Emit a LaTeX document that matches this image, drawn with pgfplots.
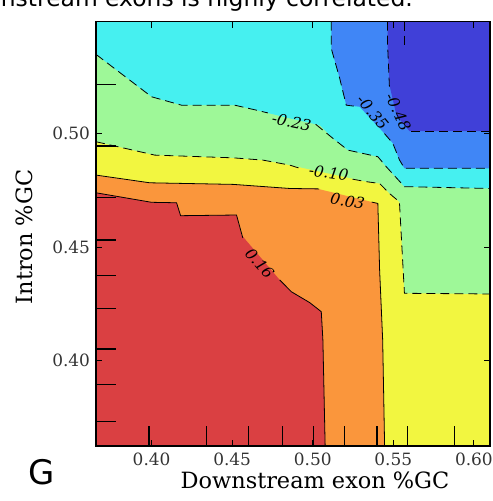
\documentclass[border=0pt]{standalone}
\usepackage{pgfplots}
\pgfplotsset{compat=1.18}
\usepackage{fontspec}
\setmainfont{DejaVu Serif}
\newfontfamily\sansfont{DejaVu Sans}

\definecolor{cRed}{RGB}{218,64,66}
\definecolor{cOrange}{RGB}{250,150,60}
\definecolor{cYellow}{RGB}{242,246,64}
\definecolor{cGreen}{RGB}{158,248,152}
\definecolor{cCyan}{RGB}{70,240,240}
\definecolor{cBlue}{RGB}{64,134,246}
\definecolor{cDark}{RGB}{64,64,216}

\tikzset{negline/.style={black, line width=0.8pt, dash pattern=on 9bp off 5bp},
         posline/.style={black, line width=0.8pt},
         rug/.style={black, line width=1.3pt},
         tk/.style={black, line width=0.9pt},
         clab/.style={font=\itshape\fontsize{15.5}{18}\selectfont, inner sep=0pt}}

\begin{document}
\begin{tikzpicture}
\begin{axis}[
  scale only axis, width=394bp, height=424.3bp,
  xmin=0.3655, xmax=0.6100, ymin=0.3624, ymax=0.5494,
  axis on top,
  axis line style={line width=1.2pt},
  tick align=inside,
  major tick length=6bp,
  tick style={draw=black, line width=0.9pt},
  xtick={0.40,0.45,0.50,0.55,0.60},
  xticklabels={0.40,0.45,0.50,0.55,0.60},
  ytick={0.40,0.45,0.50,0.55},
  yticklabels={0.40,0.45,0.50,0.55},
  /pgf/number format/assume math mode=true,
  ticklabel style={font=\fontsize{17}{20}\selectfont, text=black!80},
  xticklabel style={yshift=-3bp},
  yticklabel style={xshift=-2.5bp},
  xlabel={Downstream exon \%GC},
  ylabel={Intron \%GC},
  label style={font=\fontsize{22.5}{27}\selectfont},
  xlabel style={at={(axis description cs:0.5,0)}, anchor=base, yshift=-42bp, xshift=22bp},
  ylabel style={at={(axis description cs:0,0.5)}, anchor=base, yshift=63bp, xshift=-3bp},
  unbounded coords=jump,
]
% yellow background level (-0.10 .. 0.03)
\addplot[fill=cYellow, draw=none] coordinates {
(0.3655,0.3624) (0.6100,0.3624) (0.6100,0.5494) (0.3655,0.5494)} --cycle;
% green (-0.23 .. -0.10)
\addplot[fill=cGreen, draw=none] coordinates {
(0.3655,0.4965) (0.4020,0.4906) (0.4506,0.4894) (0.4691,0.4884) (0.4857,0.4862)
(0.5332,0.4789) (0.5415,0.4781) (0.5476,0.4737) (0.5538,0.4700) (0.5569,0.4297)
(0.6100,0.4294) (0.6100,0.5494) (0.3655,0.5494)} --cycle;
% cyan (-0.35 .. -0.23)
\addplot[fill=cCyan, draw=none] coordinates {
(0.3655,0.5350) (0.4000,0.5163) (0.4186,0.5126) (0.4516,0.5126) (0.4651,0.5104)
(0.4857,0.5068) (0.5043,0.5038) (0.5125,0.4980) (0.5218,0.4928) (0.5404,0.4899)
(0.5456,0.4855) (0.5569,0.4767) (0.6100,0.4759) (0.6100,0.5494) (0.3655,0.5494)} --cycle;
% blue (-0.48 .. -0.35)
\addplot[fill=cBlue, draw=none] coordinates {
(0.5115,0.5494) (0.5115,0.5376) (0.5167,0.5245) (0.5208,0.5126) (0.5291,0.5119)
(0.5435,0.5009) (0.5497,0.4958) (0.5538,0.4885) (0.5569,0.4848) (0.6100,0.4848)
(0.6100,0.5494)} --cycle;
% dark blue (< -0.48)
\addplot[fill=cDark, draw=none] coordinates {
(0.5464,0.5494) (0.5464,0.5400) (0.5476,0.5215) (0.5520,0.5080) (0.5600,0.5012)
(0.6100,0.5012) (0.6100,0.5494)} --cycle;
% orange (0.03 .. 0.16)
\addplot[fill=cOrange, draw=none] coordinates {
(0.3655,0.4818) (0.3989,0.4784) (0.4506,0.4777) (0.4857,0.4759) (0.5022,0.4759)
(0.5404,0.4693) (0.5415,0.4400) (0.5434,0.4091) (0.5446,0.3624) (0.3655,0.3624)} --cycle;
% red (> 0.16)
\addplot[fill=cRed, draw=none] coordinates {
(0.3655,0.4740) (0.4000,0.4698) (0.4155,0.4696) (0.4180,0.4639) (0.4527,0.4642)
(0.4558,0.4554) (0.4795,0.4356) (0.4867,0.4304) (0.4981,0.4256) (0.5053,0.4216)
(0.5063,0.4091) (0.5077,0.3624) (0.3655,0.3624)} --cycle;

% contour lines (negative levels dashed)
\addplot[negline] coordinates {(0.3655,0.5350) (0.4000,0.5163) (0.4186,0.5126) (0.4516,0.5126) (0.4651,0.5104) (0.4721,0.5092)};
\addplot[negline] coordinates {(0.5018,0.5042) (0.5125,0.4980) (0.5218,0.4928) (0.5404,0.4899) (0.5456,0.4855) (0.5569,0.4767) (0.6100,0.4759)};
\addplot[negline] coordinates {(0.3655,0.4965) (0.4020,0.4906) (0.4506,0.4894) (0.4691,0.4884) (0.4857,0.4862) (0.4937,0.4844)};
\addplot[negline] coordinates {(0.5247,0.4800) (0.5332,0.4789) (0.5415,0.4781) (0.5476,0.4737) (0.5538,0.4700) (0.5569,0.4297) (0.6100,0.4294)};
\addplot[negline] coordinates {(0.5115,0.5494) (0.5115,0.5376) (0.5167,0.5245) (0.5208,0.5126) (0.5265,0.5121)};
\addplot[negline] coordinates {(0.5445,0.5001) (0.5497,0.4958) (0.5538,0.4885) (0.5569,0.4848) (0.6100,0.4848)};
\addplot[negline] coordinates {(0.5464,0.5494) (0.5464,0.5400) (0.5476,0.5205)};
\addplot[negline] coordinates {(0.5610,0.5012) (0.6100,0.5012)};
\addplot[negline] coordinates {(0.5569,0.5494) (0.5569,0.5376)};
% positive levels solid
\addplot[posline] coordinates {(0.3655,0.4818) (0.3989,0.4784) (0.4506,0.4777) (0.4857,0.4759) (0.5040,0.4757)};
\addplot[posline] coordinates {(0.5366,0.4699) (0.5404,0.4693) (0.5415,0.4400) (0.5434,0.4091) (0.5446,0.3624)};
\addplot[posline] coordinates {(0.3655,0.4740) (0.4000,0.4698) (0.4155,0.4696) (0.4180,0.4639) (0.4527,0.4642) (0.4566,0.4541)};
\addplot[posline] coordinates {(0.4795,0.4356) (0.4867,0.4304) (0.4981,0.4256) (0.5053,0.4216) (0.5063,0.4091) (0.5077,0.3624)};

% rug of sampled positions along the bottom and left edges
\addplot[rug] coordinates {
(0.3983,0.3624) (0.3983,0.3712) (0.3983,nan)
(0.4341,0.3624) (0.4341,0.3712) (0.4341,nan)
(0.4603,0.3624) (0.4603,0.3712) (0.4603,nan)
(0.4812,0.3624) (0.4812,0.3712) (0.4812,nan)
(0.5006,0.3624) (0.5006,0.3712) (0.5006,nan)
(0.5198,0.3624) (0.5198,0.3712) (0.5198,nan)
(0.5398,0.3624) (0.5398,0.3712) (0.5398,nan)
(0.5590,0.3624) (0.5590,0.3712) (0.5590,nan)
(0.5879,0.3624) (0.5879,0.3712)};
\addplot[rug] coordinates {
(0.3655,0.3731) (0.3779,0.3731) (nan,0.3731)
(0.3655,0.3896) (0.3779,0.3896) (nan,0.3896)
(0.3655,0.4052) (0.3779,0.4052) (nan,0.4052)
(0.3655,0.4229) (0.3779,0.4229) (nan,0.4229)
(0.3655,0.4376) (0.3779,0.4376) (nan,0.4376)
(0.3655,0.4532) (0.3779,0.4532) (nan,0.4532)
(0.3655,0.4718) (0.3779,0.4718) (nan,0.4718)
(0.3655,0.4946) (0.3779,0.4946) (nan,0.4946)
(0.3655,0.5218) (0.3779,0.5218)};
% short ticks at the labelled values, on all four sides
\addplot[tk] coordinates {
(0.40,0.3624) (0.40,0.3650) (0.40,nan) (0.45,0.3624) (0.45,0.3650) (0.45,nan)
(0.50,0.3624) (0.50,0.3650) (0.50,nan) (0.55,0.3624) (0.55,0.3650) (0.55,nan)
(0.60,0.3624) (0.60,0.3650) (0.60,nan)
(0.40,0.5494) (0.40,0.5468) (0.40,nan) (0.45,0.5494) (0.45,0.5468) (0.45,nan)
(0.50,0.5494) (0.50,0.5468) (0.50,nan) (0.55,0.5494) (0.55,0.5468) (0.55,nan)
(0.60,0.5494) (0.60,0.5468)};
\addplot[tk] coordinates {
(0.3655,0.40) (0.3692,0.40) (nan,0.40) (0.3655,0.45) (0.3692,0.45) (nan,0.45)
(0.3655,0.50) (0.3692,0.50) (nan,0.50) (0.3655,0.55) (0.3692,0.55) (nan,0.55)
(0.6100,0.40) (0.6063,0.40) (nan,0.40) (0.6100,0.45) (0.6063,0.45) (nan,0.45)
(0.6100,0.50) (0.6063,0.50) (nan,0.50)};

% contour labels
\node[clab, rotate=-12] at (axis cs:0.4869,0.5051) {-0.23};
\node[clab, rotate=-8]  at (axis cs:0.5099,0.4827) {-0.10};
\node[clab, rotate=-10] at (axis cs:0.5216,0.4703) {0.03};
\node[clab, rotate=-48] at (axis cs:0.4671,0.4430) {0.16};
\node[clab, rotate=-50] at (axis cs:0.5372,0.5094) {-0.35};
\node[clab, rotate=-65] at (axis cs:0.5530,0.5097) {-0.48};
\end{axis}

\node[font=\sansfont\fontsize{34}{40}\selectfont] at (-54bp,-26bp) {G};
\node[font=\sansfont\fontsize{23.5}{28}\selectfont, anchor=base east, inner sep=0pt] at (317bp,439.5bp) {downstream exons is highly correlated.};

\pgfresetboundingbox
\path[use as bounding box] (-96bp,-55bp) rectangle (397bp,446bp);
\end{tikzpicture}
\end{document}
